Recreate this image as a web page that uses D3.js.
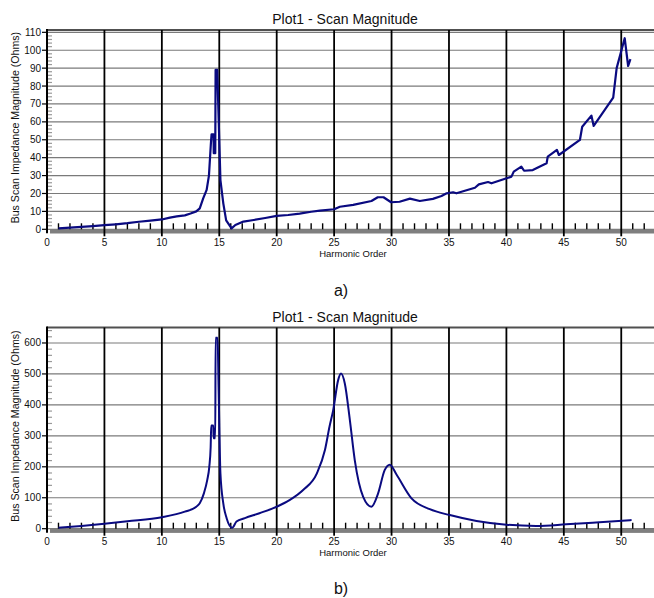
<!DOCTYPE html>
<html>
<head>
<meta charset="utf-8">
<script src="https://cdn.jsdelivr.net/npm/d3@7"></script>
<style>
  body { margin: 0; background: #fff; }
  svg { display: block; font-family: "Liberation Sans", Arial, sans-serif; }
</style>
</head>
<body>
<svg id="chart" width="654" height="598"></svg>
<script>
// panel a)
const harmonicA = [1, 2, 3, 4, 5, 6, 7, 8, 9, 10, 10.7, 11.3, 12, 12.5, 13, 13.3, 13.6, 13.9, 14.1, 14.27,
  14.33, 14.5, 14.52, 14.65, 14.68, 14.82, 14.9, 15.1, 15.35, 15.6, 16.07, 16.4, 17.1, 18, 19, 20, 21, 22, 23, 23.76,
  25, 25.5, 26.66, 28.25, 28.8, 29.3, 29.96, 30.7, 31.6, 32.46, 33.6, 34.35, 34.8, 35.36, 35.65, 37.26, 37.6, 38.4, 38.7, 40.44,
  40.64, 41.3, 41.54, 42.3, 43.5, 43.6, 44.4, 44.57, 46.4, 46.6, 47.4, 47.6, 49.3, 49.6, 50.3, 50.6, 50.8];
const magnitudeA = [0.5, 0.9, 1.3, 1.8, 2.3, 2.8, 3.4, 4.2, 4.8, 5.5, 6.5, 7.2, 7.8, 8.8, 10, 11.7, 17.3, 22, 30, 48,
  53, 53, 42.5, 42.5, 89, 89, 72, 27.5, 14.5, 5, 0.5, 2.4, 4.3, 5.2, 6.3, 7.5, 8, 8.8, 9.8, 10.4,
  11.2, 12.6, 13.6, 15.8, 17.9, 17.9, 15.1, 15.4, 17.1, 15.8, 17, 18.6, 20.1, 20.7, 20.1, 23.2, 25.1, 26.4, 25.7, 29.4,
  32.2, 35, 32.7, 33.1, 36.9, 40.6, 44.3, 41.5, 49.9, 57.3, 63.5, 57.7, 73.5, 90, 106.7, 91.2, 95];

// panel b)
const harmonicB = [1, 3, 5, 7, 10, 12, 13, 13.3, 13.66, 13.95, 14.13, 14.25, 14.3, 14.48, 14.5, 14.65, 14.68, 14.85, 14.94, 15.1,
  15.35, 15.64, 16.13, 16.5, 17.23, 18.5, 20, 21.15, 22.3, 23.5, 24.2, 24.6, 24.92, 25.35, 25.6, 25.93, 26.37, 26.8, 27.53, 28.25,
  28.83, 29.4, 29.85, 30.43, 31.74, 33.33, 35.07, 37.4, 40, 42.6, 45.2, 48.1, 50.9];
const magnitudeB = [3, 9, 16, 24, 37, 55, 71, 82, 114, 157, 200, 264, 333, 333, 292, 292, 617, 617, 458, 179,
  82, 34, 3, 23, 34, 50, 71, 93, 125, 179, 254, 330, 383, 480, 501, 469, 351, 221, 103, 71,
  114, 189, 207, 175, 98, 63, 44, 25, 13, 9, 14, 21, 28];

const xTicks = [0, 5, 10, 15, 20, 25, 30, 35, 40, 45, 50];
const yTicksA = [0, 10, 20, 30, 40, 50, 60, 70, 80, 90, 100, 110];
const yTicksB = [0, 100, 200, 300, 400, 500, 600];

const svg = d3.select("#chart");
const width = 654;
const lineColor = "#0a0a80";

function drawPanel(opts) {
  const g = svg.append("g");
  const x = d3.scaleLinear().domain([0, 53]).range([47, 47 + 53 * 11.485]);
  const y = d3.scaleLinear().domain([0, opts.yMax]).range([opts.zeroY, opts.topY]);
  const x0 = x(0);
  const y0 = y(0);

  // horizontal gridlines
  g.selectAll(".hgrid")
    .data(opts.yTicks)
    .enter()
    .append("line")
    .attr("x1", x0)
    .attr("x2", width)
    .attr("y1", (d) => y(d))
    .attr("y2", (d) => y(d))
    .attr("stroke", "#7a7a7a")
    .attr("stroke-width", 1.2);

  // top frame
  g.append("line")
    .attr("x1", x0).attr("x2", width)
    .attr("y1", opts.topY).attr("y2", opts.topY)
    .attr("stroke", "#505050")
    .attr("stroke-width", 2);

  // gray band under the x axis
  g.append("rect")
    .attr("x", x0 + 3)
    .attr("y", y0)
    .attr("width", width - x0 - 3)
    .attr("height", 4.2)
    .attr("fill", "#7f7f7f");

  // minor x ticks at each order
  const minor = d3.range(1, 54).filter((d) => d % 5 !== 0);
  g.selectAll(".xminor")
    .data(minor)
    .enter()
    .append("line")
    .attr("x1", (d) => x(d))
    .attr("x2", (d) => x(d))
    .attr("y1", y0 - 6)
    .attr("y2", y0)
    .attr("stroke", "#000")
    .attr("stroke-width", 1.4);

  // vertical gridlines
  g.selectAll(".vgrid")
    .data(xTicks.filter((d) => d > 0))
    .enter()
    .append("line")
    .attr("x1", (d) => x(d))
    .attr("x2", (d) => x(d))
    .attr("y1", opts.topY)
    .attr("y2", y0 + 7)
    .attr("stroke", "#000")
    .attr("stroke-width", 1.8);

  // y minor ticks (inside, light)
  const yMinor = d3.range(0, opts.yMax, opts.yMinorStep).filter((d) => d % opts.yTicks[1] !== 0);
  g.selectAll(".yminor")
    .data(yMinor)
    .enter()
    .append("line")
    .attr("x1", x0)
    .attr("x2", x0 + 5)
    .attr("y1", (d) => y(d))
    .attr("y2", (d) => y(d))
    .attr("stroke", "#9a9a9a")
    .attr("stroke-width", 1.2);

  // y major ticks (outside)
  g.selectAll(".ymajor")
    .data(opts.yTicks)
    .enter()
    .append("line")
    .attr("x1", x0 - 5)
    .attr("x2", x0)
    .attr("y1", (d) => y(d))
    .attr("y2", (d) => y(d))
    .attr("stroke", "#000")
    .attr("stroke-width", 1.2);

  // y axis line
  g.append("line")
    .attr("x1", x0).attr("x2", x0)
    .attr("y1", opts.topY - 1).attr("y2", y0 + 4)
    .attr("stroke", "#000")
    .attr("stroke-width", 2);

  // tick labels
  g.selectAll(".ylab")
    .data(opts.yTicks)
    .enter()
    .append("text")
    .attr("x", x0 - 6)
    .attr("y", (d) => y(d) + 3.5)
    .attr("text-anchor", "end")
    .attr("font-size", 10)
    .attr("fill", "#111")
    .text((d) => d);

  g.selectAll(".xlab")
    .data(xTicks)
    .enter()
    .append("text")
    .attr("x", (d) => x(d))
    .attr("y", y0 + 16.5)
    .attr("text-anchor", "middle")
    .attr("font-size", 10)
    .attr("fill", "#111")
    .text((d) => d);

  // titles
  g.append("text")
    .attr("x", 345)
    .attr("y", opts.topY - 6)
    .attr("text-anchor", "middle")
    .attr("font-size", 14)
    .attr("fill", "#111")
    .text("Plot1 - Scan Magnitude");

  g.append("text")
    .attr("x", 353)
    .attr("y", y0 + 27.5)
    .attr("text-anchor", "middle")
    .attr("font-size", 9.5)
    .attr("fill", "#111")
    .text("Harmonic Order");

  g.append("text")
    .attr("transform", `translate(19, ${(opts.topY + y0) / 2 - 2}) rotate(-90)`)
    .attr("text-anchor", "middle")
    .attr("font-size", 10.6)
    .attr("fill", "#111")
    .text("Bus Scan Impedance Magnitude (Ohms)");

  // the curve
  const line = d3.line()
    .x((d) => x(d[0]))
    .y((d) => y(d[1]))
    .curve(opts.curve);

  g.append("path")
    .datum(d3.zip(opts.xs, opts.ys))
    .attr("d", line)
    .attr("fill", "none")
    .attr("stroke", lineColor)
    .attr("stroke-width", opts.lineWidth)
    .attr("stroke-linejoin", "round");

  svg.append("text")
    .attr("x", 341)
    .attr("y", opts.captionY)
    .attr("text-anchor", "middle")
    .attr("font-size", 16)
    .attr("fill", "#111")
    .text(opts.caption);
}

drawPanel({
  topY: 30, zeroY: 229.3, yMax: 111.3, yTicks: yTicksA, yMinorStep: 2,
  xs: harmonicA, ys: magnitudeA, curve: d3.curveLinear, lineWidth: 2.2,
  caption: "a)", captionY: 296
});

drawPanel({
  topY: 327.5, zeroY: 528.7, yMax: 650, yTicks: yTicksB, yMinorStep: 20,
  xs: harmonicB, ys: magnitudeB, curve: d3.curveMonotoneX, lineWidth: 2,
  caption: "b)", captionY: 594
});
</script>
</body>
</html>
